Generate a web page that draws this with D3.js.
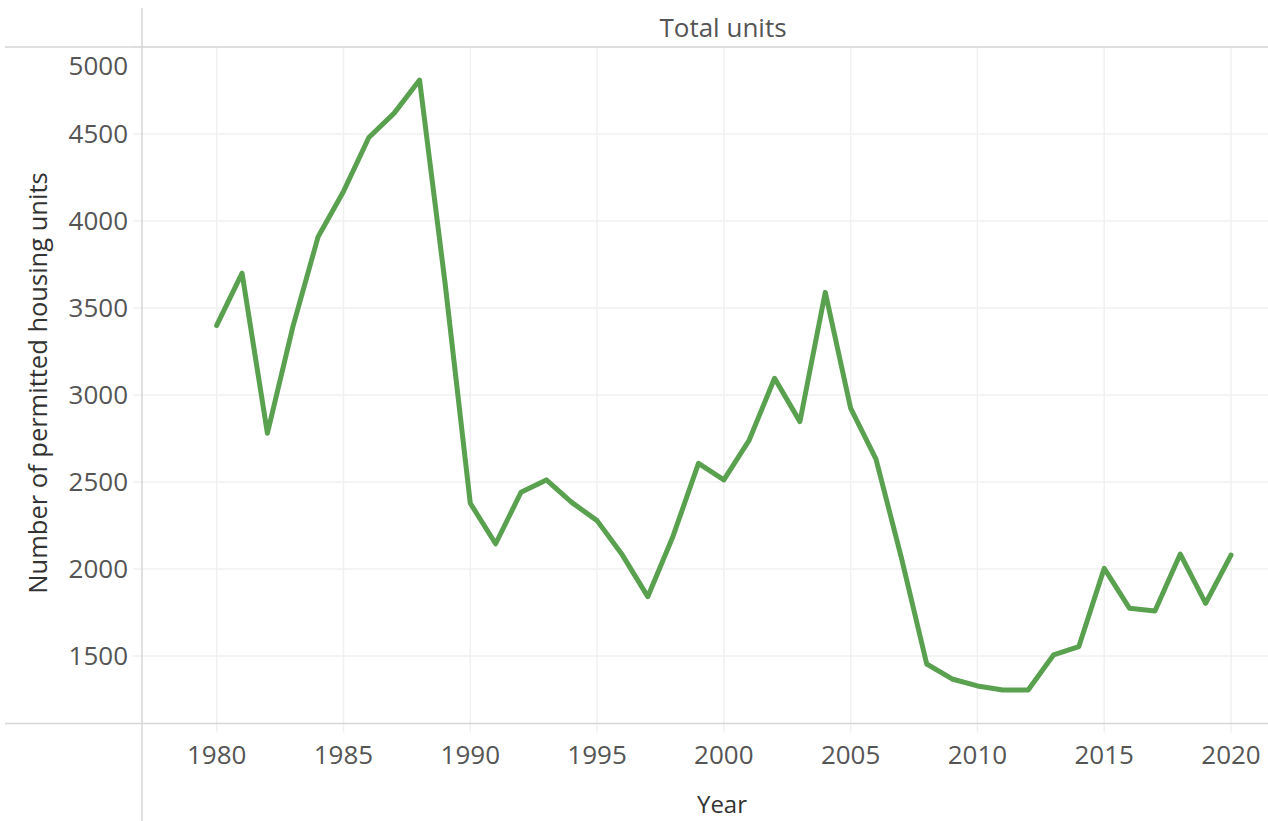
<!DOCTYPE html>
<html>
<head>
<meta charset="utf-8">
<script src="https://cdn.jsdelivr.net/npm/d3@7"></script>
<style>
  body { margin: 0; background: #fff; }
  svg { display: block; font-family: "Open Sans", "Noto Sans", sans-serif; }
</style>
</head>
<body>
<svg id="chart" width="1268" height="821"></svg>
<script>
// data
var years = [1980,1981,1982,1983,1984,1985,1986,1987,1988,1989,
             1990,1991,1992,1993,1994,1995,1996,1997,1998,1999,
             2000,2001,2002,2003,2004,2005,2006,2007,2008,2009,
             2010,2011,2012,2013,2014,2015,2016,2017,2018,2019,2020];
var totalUnits = [3400,3700,2780,3390,3910,4170,4480,4620,4810,3650,
                  2378,2145,2441,2512,2383,2278,2080,1841,2190,2607,
                  2512,2741,3096,2847,3590,2924,2632,2065,1454,1368,
                  1328,1305,1305,1506,1554,2004,1774,1759,2086,1803,2080];
var yTicks = [1500,2000,2500,3000,3500,4000,4500,5000];
var xTicks = [1980,1985,1990,1995,2000,2005,2010,2015,2020];

var width_outer = 1268, height_outer = 821;
var paneLeft = 142, paneTop = 47, paneBottom = 723.5;

var svg = d3.select("#chart");

var x = d3.scaleLinear()
  .domain([1980, 2020])
  .range([216.7, 1231]);

var y = d3.scaleLinear()
  .domain([1500, 5000])
  .range([656, 47]);

// grid lines
svg.append("g").selectAll("line.vgrid")
  .data(xTicks)
  .enter().append("line")
  .attr("class", "vgrid")
  .attr("x1", function(d){ return x(d); })
  .attr("x2", function(d){ return x(d); })
  .attr("y1", paneTop)
  .attr("y2", paneBottom + 9)
  .style("stroke", "#f0f0f0")
  .style("stroke-width", 1.5);

svg.append("g").selectAll("line.hgrid")
  .data(yTicks)
  .enter().append("line")
  .attr("class", "hgrid")
  .attr("x1", paneLeft - 9)
  .attr("x2", width_outer)
  .attr("y1", function(d){ return y(d); })
  .attr("y2", function(d){ return y(d); })
  .style("stroke", "#f0f0f0")
  .style("stroke-width", 1.5);

// frame lines
svg.append("line")
  .attr("x1", 5).attr("x2", width_outer)
  .attr("y1", paneTop).attr("y2", paneTop)
  .style("stroke", "#d6d6d6").style("stroke-width", 1.5);
svg.append("line")
  .attr("x1", 5).attr("x2", width_outer)
  .attr("y1", paneBottom).attr("y2", paneBottom)
  .style("stroke", "#d6d6d6").style("stroke-width", 1.5);
svg.append("line")
  .attr("x1", paneLeft).attr("x2", paneLeft)
  .attr("y1", 8).attr("y2", height_outer)
  .style("stroke", "#d6d6d6").style("stroke-width", 1.5);

// tick labels
svg.append("g").selectAll("text.ylab")
  .data(yTicks)
  .enter().append("text")
  .attr("class", "ylab")
  .attr("x", 128)
  .attr("y", function(d){ return d === 5000 ? y(d) + 19 : y(d); })
  .attr("dy", "0.35em")
  .attr("text-anchor", "end")
  .style("font-size", "26px")
  .style("fill", "#555")
  .text(function(d){ return d; });

svg.append("g").selectAll("text.xlab")
  .data(xTicks)
  .enter().append("text")
  .attr("class", "xlab")
  .attr("x", function(d){ return x(d); })
  .attr("y", 755)
  .attr("dy", "0.35em")
  .attr("text-anchor", "middle")
  .style("font-size", "26px")
  .style("fill", "#555")
  .text(function(d){ return d; });

// titles
svg.append("text")
  .attr("x", 723).attr("y", 28).attr("dy", "0.35em")
  .attr("text-anchor", "middle")
  .style("font-size", "26px").style("fill", "#555")
  .text("Total units");

svg.append("text")
  .attr("x", 722).attr("y", 805).attr("dy", "0.35em")
  .attr("text-anchor", "middle")
  .style("font-size", "24px").style("fill", "#333")
  .text("Year");

svg.append("text")
  .attr("transform", "translate(38,383) rotate(-90)")
  .attr("dy", "0.35em")
  .attr("text-anchor", "middle")
  .style("font-size", "25.5px").style("fill", "#333")
  .text("Number of permitted housing units");

// line
var line = d3.line()
  .x(function(d, i){ return x(years[i]); })
  .y(function(d){ return y(d); });

svg.append("path")
  .datum(totalUnits)
  .attr("d", line)
  .style("fill", "none")
  .style("stroke", "#59a14f")
  .style("stroke-width", 5)
  .style("stroke-linejoin", "round")
  .style("stroke-linecap", "round");
</script>
</body>
</html>
